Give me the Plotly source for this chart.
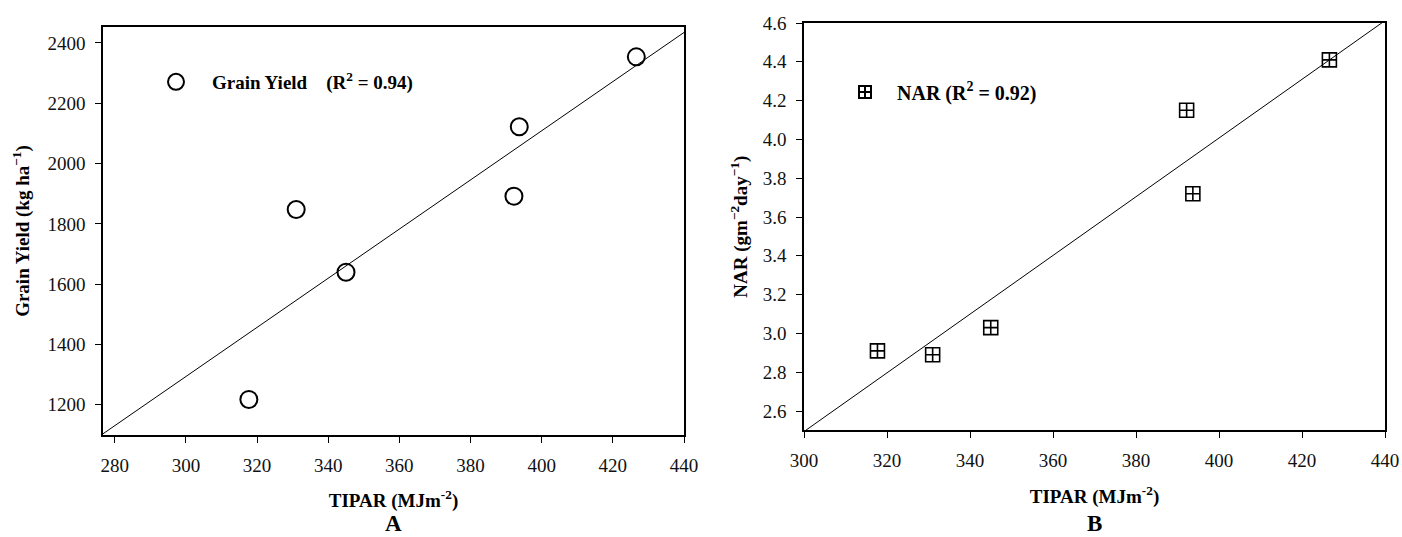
import numpy as np
import plotly.graph_objects as go

# ---- data ----
tipar = [317.7, 331.0, 345.0, 392.2, 393.7, 426.6]
grain_yield = [1218, 1848, 1640, 1892, 2122, 2354]
nar = [2.91, 2.89, 3.03, 4.15, 3.72, 4.41]

xA_ticks = [280, 300, 320, 340, 360, 380, 400, 420, 440]
xB_ticks = [300, 320, 340, 360, 380, 400, 420, 440]
yA_ticks = [1200, 1400, 1600, 1800, 2000, 2200, 2400]
yB_ticks = [2.6, 2.8, 3.0, 3.2, 3.4, 3.6, 3.8, 4.0, 4.2, 4.4, 4.6]

xA_range = [276.7, 440]
yA_range = [1100, 2453]
xB_range = [300, 440]
yB_range = [2.5, 4.6]

FONT = "Liberation Serif"
W, H = 1402, 537
ML, MR, MT, MB = 103, 17, 23, 102
PW, PH = W - ML - MR, H - MT - MB


def fx(p):
    return (p - ML) / PW


def fy(p):
    return (H - MB - p) / PH


fitA = np.polyfit(tipar, grain_yield, 1)
fitB = np.polyfit(tipar, nar, 1)

fig = go.Figure()

fig.add_trace(go.Scatter(
    x=xA_range, y=list(np.polyval(fitA, xA_range)), mode="lines",
    line=dict(color="black", width=1), showlegend=False,
    xaxis="x", yaxis="y"))
fig.add_trace(go.Scatter(
    x=tipar, y=grain_yield, mode="markers",
    marker=dict(symbol="circle-open", size=17, color="black",
                line=dict(color="black", width=2)),
    name="<b>Grain Yield&nbsp;&nbsp;&nbsp;&nbsp;(R<sup>2</sup> = 0.94)</b>",
    xaxis="x", yaxis="y", legend="legend"))

fig.add_trace(go.Scatter(
    x=xB_range, y=list(np.polyval(fitB, xB_range)), mode="lines",
    line=dict(color="black", width=1), showlegend=False,
    xaxis="x2", yaxis="y2"))
fig.add_trace(go.Scatter(
    x=tipar, y=nar, mode="markers",
    marker=dict(symbol="square-cross-open", size=14, color="black",
                line=dict(color="black", width=1.6)),
    name="<b>NAR (R<sup>2</sup> = 0.92)</b>",
    xaxis="x2", yaxis="y2", legend="legend2"))

axis_common = dict(
    showgrid=False, zeroline=False, showline=True, linecolor="black",
    linewidth=1.5, mirror=True, ticks="outside", ticklen=6, tickwidth=1,
    tickcolor="black", tickfont=dict(family=FONT, size=19, color="#111"),
    automargin=False,
)
title_font = dict(family=FONT, size=19, color="black")

fig.update_layout(
    width=W, height=H,
    margin=dict(l=ML, r=MR, t=MT, b=MB, autoexpand=False),
    paper_bgcolor="white", plot_bgcolor="white",
    font=dict(family=FONT, color="black"),
    xaxis=dict(domain=[fx(103), fx(684)], range=xA_range, tickvals=xA_ticks,
               anchor="y", ticklabelstandoff=6, tickangle=0,
               title=dict(text="<b>TIPAR (MJm<sup>-2</sup>)</b>", font=title_font,
                          standoff=19),
               **axis_common),
    yaxis=dict(domain=[fy(435), fy(27)], range=yA_range, tickvals=yA_ticks,
               anchor="x", ticklabelstandoff=6,
               title=dict(text="<b>Grain Yield (kg ha<sup>−1</sup>)</b>", font=title_font,
                          standoff=13),
               **axis_common),
    xaxis2=dict(domain=[fx(804), fx(1385)], range=xB_range, tickvals=xB_ticks,
                anchor="y2", ticklabelstandoff=6, tickangle=0,
                title=dict(text="<b>TIPAR (MJm<sup>-2</sup>)</b>", font=title_font,
                           standoff=20),
                **axis_common),
    yaxis2=dict(domain=[fy(430.4), fy(23)], range=yB_range, tickvals=yB_ticks,
                tickformat=".1f", anchor="x2", ticklabelstandoff=6,
                title=dict(text="<b>NAR (gm<sup>−2</sup>day<sup>−1</sup>)</b>", font=title_font,
                           standoff=10),
                **axis_common),
    legend=dict(x=fx(140), y=fy(82), xanchor="left", yanchor="middle",
                itemwidth=62, bgcolor="rgba(0,0,0,0)",
                font=dict(family=FONT, size=19, color="black")),
    legend2=dict(x=fx(833), y=fy(92), xanchor="left", yanchor="middle",
                 itemwidth=54, bgcolor="rgba(0,0,0,0)", itemsizing="constant",
                 font=dict(family=FONT, size=20, color="black")),
    annotations=[
        dict(text="<b>A</b>", x=fx(393.5), y=fy(523.5), xref="paper", yref="paper",
             xanchor="center", yanchor="middle",
             showarrow=False, font=dict(family=FONT, size=23, color="black")),
        dict(text="<b>B</b>", x=fx(1094.5), y=fy(523.5), xref="paper", yref="paper",
             xanchor="center", yanchor="middle",
             showarrow=False, font=dict(family=FONT, size=23, color="black")),
    ],
)

fig.write_html("out.html",
               config={"displayModeBar": False},
               post_script="document.body.style.margin='0';document.body.style.overflow='hidden';")
